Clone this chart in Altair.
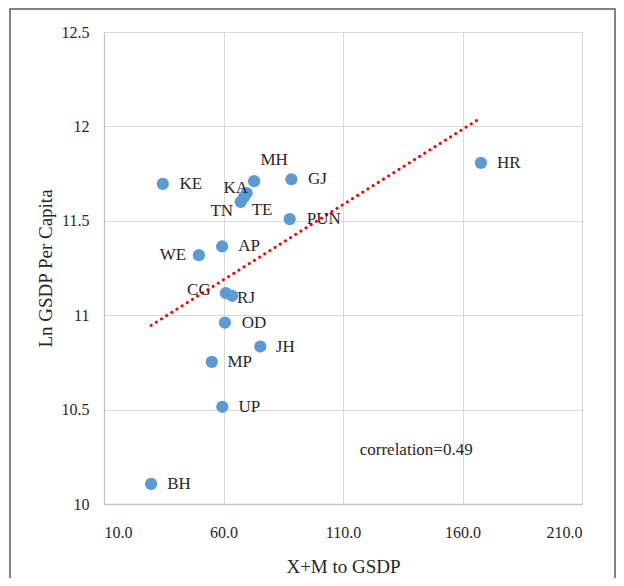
import altair as alt
import pandas as pd

# ---- data ----
states = ["KE", "MH", "GJ", "KA", "TE", "TN", "PUN", "AP", "WE", "CG",
          "RJ", "OD", "JH", "MP", "UP", "BH", "HR"]
trade_to_gsdp = [34.6, 72.8, 88.4, 69.7, 68.6, 67.2, 87.7, 59.4, 49.7, 61.0,
                 63.6, 60.6, 75.4, 55.1, 59.5, 29.7, 167.7]
ln_gsdp_pc = [11.696, 11.710, 11.720, 11.647, 11.626, 11.600, 11.509, 11.364, 11.318, 11.117,
              11.103, 10.961, 10.834, 10.753, 10.515, 10.107, 11.807]

x_ticks = [10, 60, 110, 160, 210]
y_ticks = [10, 10.5, 11, 11.5, 12, 12.5]

note_text = ["correlation=0.49"]
note_x = [117.0]
note_y = [10.286]

# label placement (pixel offsets of label centre from the point)
label_offsets = {
    "KE": (28, 0), "MH": (20, -21), "GJ": (26, 0), "KA": (-11, -5),
    "TE": (18, 13), "TN": (-19, 9), "PUN": (34, 0), "AP": (27, 0),
    "WE": (-26, 0), "CG": (-27, -3), "RJ": (14, 2), "OD": (29, 0),
    "JH": (25, 0), "MP": (28, 0), "UP": (27, 0), "BH": (28, 0), "HR": (28, 0),
}

df = pd.DataFrame({"state": states, "trade": trade_to_gsdp, "lny": ln_gsdp_pc})
note_df = pd.DataFrame({"text": note_text, "x": note_x, "y": note_y})

FONT = "Liberation Serif"
LFONT = "Liberation Serif, Times New Roman, serif"
TXT = "#262626"

xscale = alt.Scale(domain=[10, 210], nice=False, zero=False)
yscale = alt.Scale(domain=[10, 12.5], nice=False, zero=False)

xaxis = alt.Axis(title="X+M to GSDP", values=x_ticks, format=".1f", grid=True,
                 ticks=False, tickSize=0, labelPadding=28, labelBaseline="middle",
                 labelFont=LFONT, titleFont=FONT, labelColor=TXT, titleColor=TXT,
                 labelFontSize=16, titleFontSize=19, titleFontWeight="normal",
                 titleBaseline="middle", titleY=62)
yaxis = alt.Axis(title="Ln GSDP Per Capita", values=y_ticks, format=".1~f", grid=True,
                 ticks=False, tickSize=0, labelPadding=15, labelBaseline="middle",
                 labelFont=LFONT, titleFont=FONT, labelColor=TXT, titleColor=TXT,
                 labelFontSize=16, titleFontSize=19, titleFontWeight="normal",
                 titleAngle=-90, titleAlign="center", titleBaseline="middle",
                 titleX=-59, titleY=236)


def X(field):
    return alt.X(field, scale=xscale, axis=xaxis)


def Y(field):
    return alt.Y(field, scale=yscale, axis=yaxis)


base = alt.Chart(df)

points = base.mark_circle(size=150, opacity=1, color="#5b9bd5").encode(
    x=X("trade:Q"), y=Y("lny:Q"),
)

trend = base.transform_regression("trade", "lny").mark_line(
    color="#ff0000", strokeWidth=3, strokeDash=[0.1, 6], strokeCap="round"
).encode(x=X("trade:Q"), y=Y("lny:Q"))

label_layers = []
for s in states:
    dx, dy = label_offsets[s]
    label_layers.append(
        base.transform_filter(alt.datum.state == s).mark_text(
            dx=dx, dy=dy, align="center", baseline="middle",
            font=FONT, fontSize=17, color=TXT
        ).encode(x=X("trade:Q"), y=Y("lny:Q"), text="state:N")
    )

note = alt.Chart(note_df).mark_text(
    align="left", baseline="middle", font=FONT, fontSize=17, color=TXT
).encode(x=X("x:Q"), y=Y("y:Q"), text="text:N")

frame = alt.Chart(note_df).mark_rect(
    fillOpacity=0, stroke="#595959", strokeWidth=1.5
).encode(
    x=alt.value(-94), x2=alt.value(511), y=alt.value(-23), y2=alt.value(600)
)

chart = alt.layer(points, trend, *label_layers, note, frame).properties(
    width=478, height=472,
    autosize=alt.AutoSizeParams(type="none"),
    padding={"left": 96, "top": 24, "right": 34, "bottom": 74},
    background="white",
).configure(
    font=FONT,
    style={"guide-label": {"font": LFONT, "fill": TXT},
           "guide-title": {"font": FONT, "fill": TXT}},
).configure_view(
    stroke="#d9d9d9", strokeWidth=1
).configure_axis(
    gridColor="#d9d9d9", gridWidth=1, domainColor="#c4c4c4", domainWidth=1.3,
    labelFont=LFONT, titleFont=FONT, labelColor=TXT, titleColor=TXT,
)

chart.save("out.html", embed_options={"renderer": "svg", "actions": False})
